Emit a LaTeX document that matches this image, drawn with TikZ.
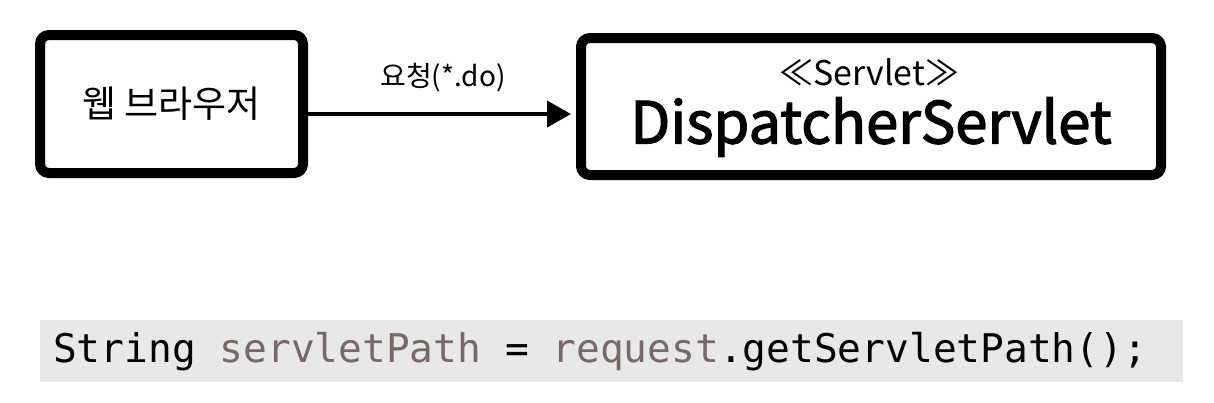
\documentclass[tikz,border=0pt]{standalone}
\usepackage{fontspec}
\setmainfont{Noto Sans CJK KR}
\newfontfamily\medfont[FakeBold=2.2]{Noto Sans CJK KR}
\newfontfamily\codefont{DejaVu Sans Mono}
\usetikzlibrary{arrows.meta,calc}
\definecolor{codebg}{HTML}{E8E8E8}
\definecolor{codevar}{HTML}{7A6868}
\tikzset{
  box/.style={draw=black, line width=10pt, rounded corners=9pt, fill=white, inner sep=0pt},
  arr/.style={line width=4pt, -{Triangle[length=24pt,width=26pt]}},
}
\begin{document}
\begin{tikzpicture}[x=1pt,y=-1pt]
\useasboundingbox (0,0) rectangle (1214,402);
\node[box, minimum width=263pt, minimum height=138pt] (browser) at (171.5,104)
  {\fontsize{37}{42}\selectfont 웹 브라우저};
\node[box, minimum width=580pt, minimum height=137pt] (servlet) at (871,106.5) {};
\node (stereo) at (869,72) {\fontsize{34}{38}\selectfont ≪Servlet≫};
\node (dname) at (871,127) {\medfont\fontsize{58}{62}\selectfont DispatcherServlet};
\draw[arr, shorten >=5pt] ([yshift=-10pt]browser.east) -- ([yshift=-10pt]browser.east -| servlet.west);
\node (lbl) at (443,78) {\fontsize{28}{32}\selectfont 요청(*.do)};
\node[fill=codebg, minimum width=1143pt, minimum height=62pt, inner sep=0pt] (code) at (611.5,351) {};
\node[anchor=west, inner sep=0pt] (codetext) at (53,352) {\codefont\fontsize{39.5}{44}\selectfont String \textcolor{codevar}{servletPath} = \textcolor{codevar}{request}.getServletPath();};
\end{tikzpicture}
\end{document}
